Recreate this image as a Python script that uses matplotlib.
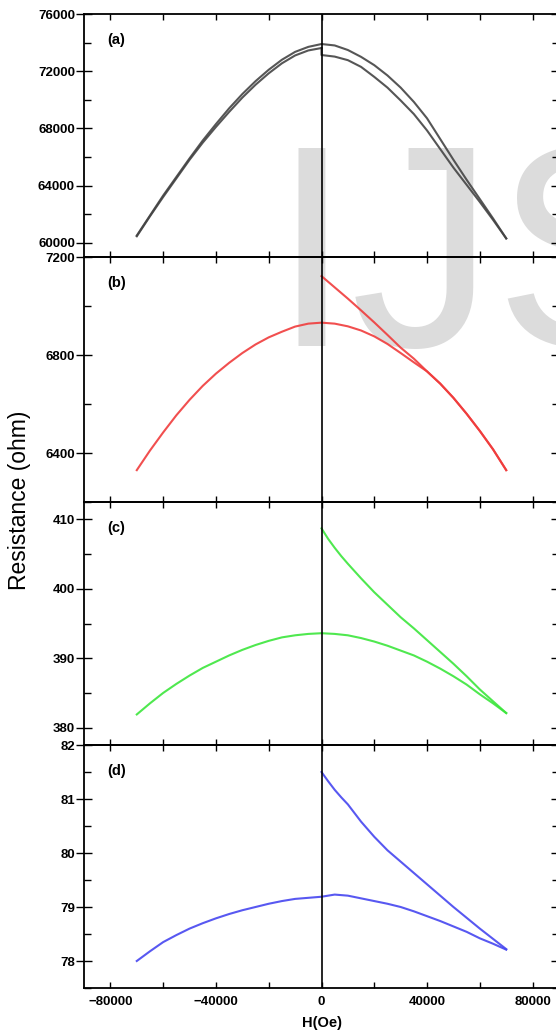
import numpy as np
import matplotlib.pyplot as plt
from matplotlib.ticker import MultipleLocator

plt.rcParams['font.family'] = ['Liberation Sans', 'DejaVu Sans']

# field grids (Oe)
h_sweep = list(range(70000, -70001, -5000))      # 70000 -> -70000
h_return = list(range(-70000, 1, 5000))          # -70000 -> 0
h_virgin = [0, 2500, 5000, 7500, 10000, 15000, 20000, 25000, 30000,
            35000, 40000, 45000, 50000, 55000, 60000, 65000, 70000]
h_virgin_a = [0, 0] + list(range(5000, 70001, 5000))
h_virgin_b = list(range(0, 70001, 5000))

# (a) black
a_virgin_r = [73620, 73130, 73020, 72770, 72300, 71600, 70850, 69950, 69000,
              67850, 66550, 65250, 64050, 62850, 61600, 60300]
a_sweep_r = [60300, 61700, 63050, 64400, 65800, 67250, 68700, 69850, 70850,
             71700, 72420, 73000, 73480, 73800, 73900, 73700, 73350, 72800,
             72100, 71300, 70400, 69400, 68300, 67150, 65900, 64600, 63300,
             61900, 60500]
a_return_r = [60450, 61850, 63200, 64500, 65800, 67000, 68100, 69150, 70150,
              71050, 71850, 72550, 73100, 73450, 73620]

# (b) red
b_virgin_r = [7122, 7076, 7030, 6982, 6933, 6882, 6830, 6785, 6733, 6683,
              6625, 6560, 6490, 6415, 6330]
b_sweep_r = [6330, 6415, 6490, 6560, 6625, 6683, 6733, 6770, 6808, 6845,
             6876, 6900, 6917, 6928, 6932, 6928, 6916, 6895, 6872, 6843,
             6808, 6768, 6724, 6674, 6617, 6554, 6484, 6410, 6330]

# (c) green
c_virgin_r = [408.7, 407.2, 405.9, 404.7, 403.6, 401.5, 399.5, 397.7, 395.9,
              394.3, 392.6, 390.9, 389.2, 387.4, 385.5, 383.8, 382.1]
c_sweep_r = [382.1, 383.5, 384.8, 386.2, 387.4, 388.5, 389.5, 390.4, 391.1,
             391.8, 392.4, 392.9, 393.3, 393.5, 393.6, 393.5, 393.3, 393.0,
             392.5, 391.9, 391.2, 390.4, 389.5, 388.6, 387.5, 386.3, 385.0,
             383.5, 381.9]

# (d) blue
d_virgin_r = [81.50, 81.33, 81.17, 81.03, 80.90, 80.58, 80.30, 80.05, 79.84,
              79.63, 79.42, 79.21, 79.00, 78.80, 78.60, 78.41, 78.22]
d_sweep_r = [78.21, 78.32, 78.42, 78.54, 78.64, 78.74, 78.83, 78.92, 79.00,
             79.06, 79.11, 79.16, 79.21, 79.23, 79.19, 79.17, 79.15, 79.11,
             79.06, 79.00, 78.94, 78.87, 78.79, 78.70, 78.60, 78.48, 78.35,
             78.18, 78.00]

panels = [
    dict(tag='(a)', color='#444444', ylim=(59000, 76000), major=4000, minor=2000,
         curves=[(h_virgin_a, a_virgin_r), (h_sweep, a_sweep_r), (h_return, a_return_r)]),
    dict(tag='(b)', color='#f03c3c', ylim=(6200, 7200), major=400, minor=200,
         curves=[(h_virgin_b, b_virgin_r), (h_sweep, b_sweep_r)]),
    dict(tag='(c)', color='#3ce63c', ylim=(377.5, 412.5), major=10, minor=5,
         curves=[(h_virgin, c_virgin_r), (h_sweep, c_sweep_r)]),
    dict(tag='(d)', color='#4646f0', ylim=(77.5, 82), major=1, minor=0.5,
         curves=[(h_virgin, d_virgin_r), (h_sweep, d_sweep_r)]),
]

W, H = 556, 1036
fig = plt.figure(figsize=(W / 100, H / 100), dpi=100)

# watermark behind everything
fig.text(271 / W, 1 - 346 / H, 'IJS', fontsize=207, color='#dcdcdc',
         ha='left', va='baseline', zorder=-5)

tops = [14, 257, 502, 745, 988]
left, right = 84, 559
for i, p in enumerate(panels):
    y0, y1 = tops[i], tops[i + 1]
    ax = fig.add_axes([left / W, 1 - y1 / H, (right - left) / W, (y1 - y0) / H])
    ax.patch.set_alpha(0)
    for hh, rr in p['curves']:
        ax.plot(hh, rr, color=p['color'], lw=1.5, alpha=0.9)
    ax.axvline(0, color='black', lw=1.2)
    ax.set_xlim(-90000, 90000)
    ax.set_ylim(*p['ylim'])
    ax.xaxis.set_major_locator(MultipleLocator(40000))
    ax.xaxis.set_minor_locator(MultipleLocator(20000))
    ax.yaxis.set_major_locator(MultipleLocator(p['major']))
    ax.yaxis.set_minor_locator(MultipleLocator(p['minor']))
    ax.tick_params(axis='y', which='major', left=True, right=True, direction='inout',
                   length=11, width=1.0, labelsize=9.5, pad=1)
    ax.tick_params(axis='y', which='minor', left=True, right=True, direction='in',
                   length=5, width=1.0)
    ax.tick_params(axis='x', which='both', top=True, bottom=True, direction='in',
                   length=4, width=1.0, labelsize=9.5, pad=6)
    for lab in ax.get_yticklabels() + ax.get_xticklabels():
        lab.set_fontweight('bold')
    for s in ax.spines.values():
        s.set_linewidth(1.3)
    if i < 3:
        ax.tick_params(axis='x', labelbottom=False)
    ax.text(0.048, 0.895, p['tag'], transform=ax.transAxes, fontsize=10.5,
            fontweight='bold', ha='left', va='center')

fig.text(20 / W, 1 - 500 / H, 'Resistance (ohm)', rotation=90, fontsize=16.5,
         ha='center', va='center')
fig.text(322 / W, 1 - 1023 / H, 'H(Oe)', fontsize=10.5, fontweight='bold',
         ha='center', va='center')

fig.savefig('out.png', dpi=100)
